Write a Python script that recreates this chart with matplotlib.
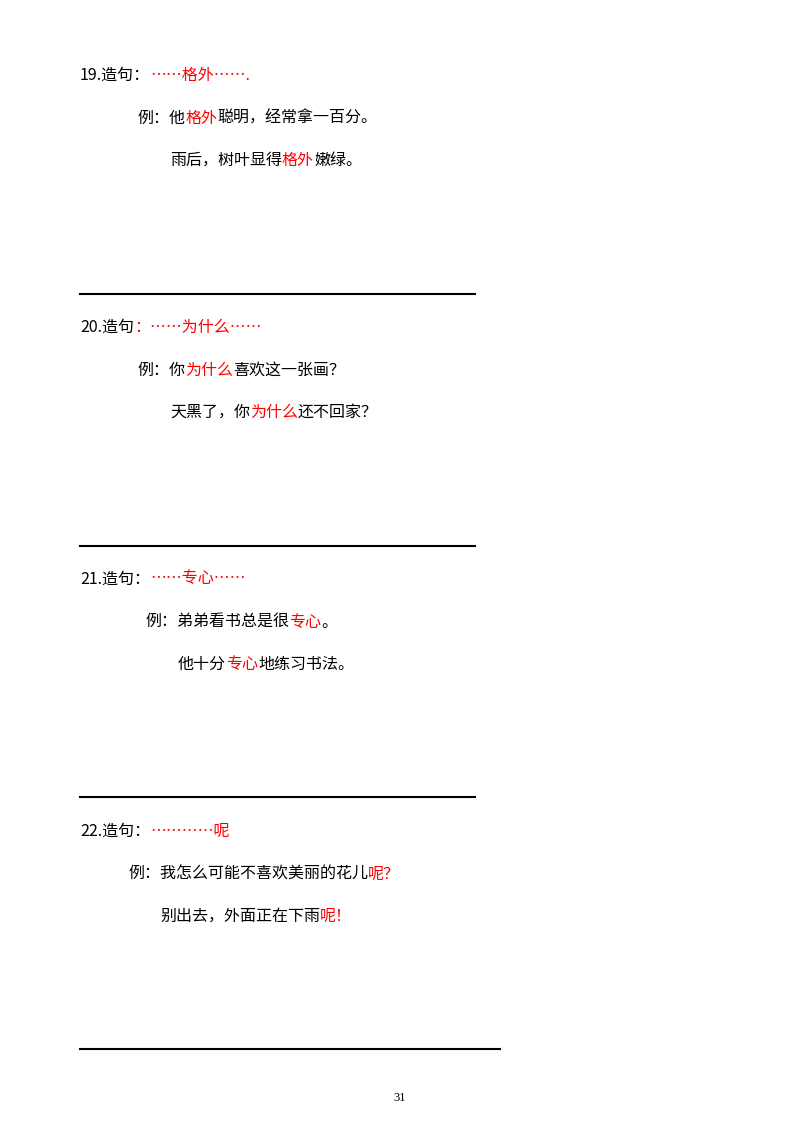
import matplotlib
matplotlib.use("Agg")
import matplotlib.pyplot as plt

plt.rcParams['font.family'] = ['Noto Sans CJK SC', 'DejaVu Sans']

RED = '#ff0000'
BLK = '#000000'

# (x, y, [(text, color), ...])
lines = [
    (80, 75, [("19.造句：", BLK), ("……格外…….", RED)]),
    (137, 118, [("例：他", BLK), ("格外", RED), ("聪明，经常拿一百分。", BLK)]),
    (170, 160, [("雨后，树叶显得", BLK), ("格外", RED), ("嫩绿。", BLK)]),
    (80, 327, [("20.造句", BLK), ("：……为什么……", RED)]),
    (137, 370, [("例：你", BLK), ("为什么", RED), ("喜欢这一张画？", BLK)]),
    (170, 412, [("天黑了，你", BLK), ("为什么", RED), ("还不回家？", BLK)]),
    (80, 579, [("21.造句：", BLK), ("……专心……", RED)]),
    (145, 622, [("例：弟弟看书总是很", BLK), ("专心", RED), ("。", BLK)]),
    (178, 664, [("他十分", BLK), ("专心", RED), ("地练习书法。", BLK)]),
    (80, 831, [("22.造句：", BLK), ("…………呢", RED)]),
    (128, 874, [("例：我怎么可能不喜欢美丽的花儿", BLK), ("呢？", RED)]),
    (160, 916, [("别出去，外面正在下雨", BLK), ("呢！", RED)]),
]
rules = [(80, 475, 294), (80, 475, 546), (80, 475, 797), (80, 500, 1049)]
page_no = "31"

W, H = 800, 1132
fig = plt.figure(figsize=(W/100, H/100), dpi=100)
ax = fig.add_axes([0, 0, 1, 1])
ax.set_xlim(0, W); ax.set_ylim(H, 0); ax.axis('off')
fig.canvas.draw()
r = fig.canvas.get_renderer()

for x, y, segs in lines:
    cx = x
    for t, c in segs:
        tx = ax.text(cx, y, t, color=c, fontsize=11.5, va='center', ha='left')
        bb = tx.get_window_extent(renderer=r)
        cx += bb.width
for x0, x1, y in rules:
    ax.plot([x0, x1], [y, y], color='black', lw=1.5)
ax.text(400, 1098, page_no, fontsize=9, family='Liberation Serif', ha='center', va='center')

fig.savefig('out.png', dpi=100)
